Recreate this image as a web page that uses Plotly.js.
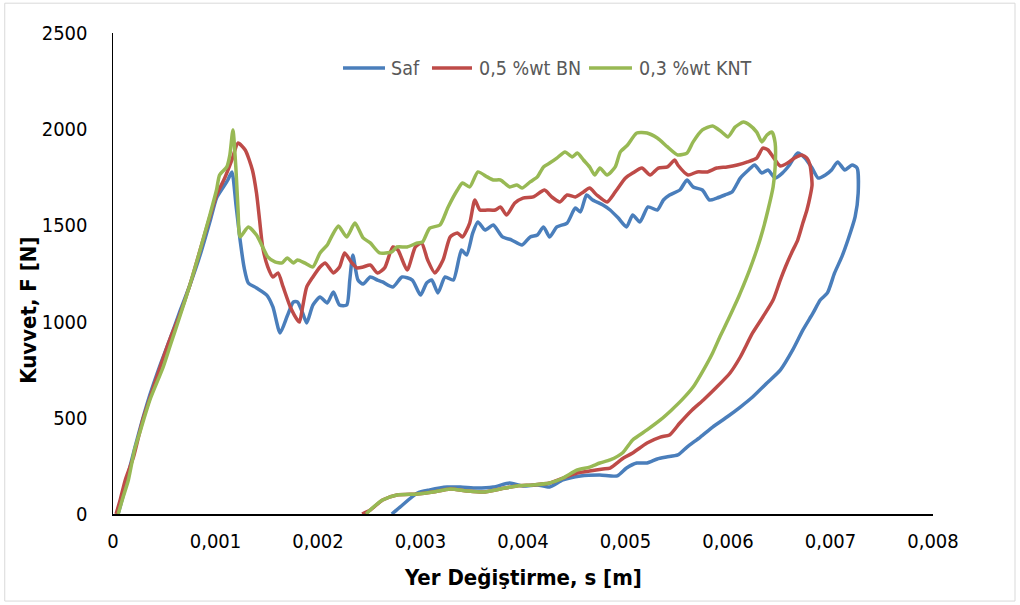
<!DOCTYPE html>
<html>
<head>
<meta charset="utf-8">
<script src="https://cdn.plot.ly/plotly-3.0.1.min.js"></script>
<style>
  html, body { margin: 0; padding: 0; background: #ffffff; }
  #chart { width: 1020px; height: 605px; }
</style>
</head>
<body>
<div id="chart"></div>
<script>
// Kuvvet - yer değiştirme eğrileri (yükleme + geri dönüş)

// Saf
const safX = [0.00005,0.00010,0.00017,0.00026,0.00036,0.00046,0.00056,0.00065,0.00075,0.00085,0.00095,0.00101,0.00107,0.00112,0.00116,0.00120,0.00124,0.00128,0.00132,0.00140,0.00150,0.00156,0.00163,0.00170,0.00176,0.00180,0.00185,0.00189,0.00195,0.00202,0.00209,0.00215,0.00221,0.00228,0.00231,0.00234,0.00239,0.00244,0.00251,0.00258,0.00263,0.00273,0.00282,0.00292,0.00300,0.00306,0.00311,0.00317,0.00324,0.00332,0.00340,0.00345,0.00351,0.00356,0.00363,0.00371,0.00380,0.00389,0.00399,0.00407,0.00414,0.00420,0.00426,0.00433,0.00443,0.00451,0.00456,0.00462,0.00468,0.00478,0.00485,0.00493,0.00501,0.00507,0.00514,0.00522,0.00531,0.00537,0.00543,0.00553,0.00560,0.00566,0.00575,0.00582,0.00589,0.00597,0.00604,0.00612,0.00620,0.00626,0.00633,0.00639,0.00646,0.00653,0.00660,0.00668,0.00675,0.00682,0.00688,0.00695,0.00701,0.00707,0.00714,0.00721,0.00726,0.00727,0.00724,0.00717,0.00711,0.00704,0.00697,0.00690,0.00683,0.00673,0.00663,0.00651,0.00638,0.00624,0.00612,0.00599,0.00585,0.00573,0.00560,0.00551,0.00540,0.00531,0.00521,0.00511,0.00501,0.00492,0.00475,0.00456,0.00439,0.00426,0.00414,0.00400,0.00387,0.00371,0.00355,0.00339,0.00326,0.00309,0.00297,0.00280,0.00272];
const safF = [0,99,255,437,619,774,915,1050,1190,1346,1528,1642,1694,1736,1778,1606,1424,1279,1201,1175,1138,1076,941,1029,1102,1102,1045,993,1086,1128,1097,1154,1086,1086,1216,1346,1216,1195,1232,1216,1206,1180,1232,1216,1138,1201,1216,1149,1232,1216,1372,1346,1461,1518,1476,1502,1440,1424,1398,1440,1450,1492,1440,1492,1512,1590,1570,1658,1632,1606,1580,1538,1492,1554,1518,1596,1580,1632,1658,1684,1736,1700,1684,1632,1642,1658,1674,1746,1788,1814,1772,1788,1746,1772,1814,1876,1850,1798,1746,1762,1788,1830,1788,1814,1798,1668,1544,1424,1336,1253,1149,1112,1045,956,852,748,681,608,556,504,452,400,348,307,296,286,265,265,239,198,203,198,177,140,151,146,161,140,135,140,140,125,109,36,0];

// 0,5 %wt BN
const bnX = [0.00003,0.00007,0.00012,0.00020,0.00029,0.00036,0.00046,0.00056,0.00065,0.00075,0.00085,0.00095,0.00101,0.00109,0.00116,0.00122,0.00129,0.00136,0.00140,0.00143,0.00146,0.00151,0.00156,0.00161,0.00166,0.00173,0.00180,0.00182,0.00185,0.00189,0.00195,0.00202,0.00207,0.00215,0.00221,0.00226,0.00233,0.00238,0.00244,0.00251,0.00258,0.00265,0.00273,0.00278,0.00287,0.00295,0.00301,0.00307,0.00314,0.00322,0.00329,0.00336,0.00341,0.00348,0.00353,0.00358,0.00365,0.00373,0.00378,0.00384,0.00392,0.00400,0.00410,0.00421,0.00428,0.00436,0.00443,0.00451,0.00459,0.00465,0.00472,0.00482,0.00490,0.00500,0.00507,0.00516,0.00524,0.00532,0.00541,0.00548,0.00551,0.00561,0.00570,0.00580,0.00589,0.00599,0.00609,0.00619,0.00628,0.00634,0.00639,0.00644,0.00651,0.00658,0.00665,0.00672,0.00677,0.00680,0.00682,0.00680,0.00677,0.00673,0.00668,0.00662,0.00656,0.00651,0.00644,0.00634,0.00624,0.00612,0.00602,0.00589,0.00576,0.00565,0.00553,0.00543,0.00534,0.00521,0.00507,0.00498,0.00485,0.00478,0.00465,0.00453,0.00439,0.00426,0.00410,0.00394,0.00378,0.00361,0.00345,0.00329,0.00312,0.00297,0.00277,0.00263,0.00251,0.00243];
const bnF = [0,73,177,296,489,603,764,915,1034,1190,1372,1554,1658,1746,1840,1928,1892,1788,1668,1528,1388,1284,1232,1253,1180,1076,1008,998,1076,1180,1232,1284,1305,1253,1284,1357,1305,1279,1284,1294,1253,1279,1388,1372,1268,1388,1409,1320,1253,1320,1440,1461,1440,1512,1632,1580,1580,1580,1596,1554,1616,1642,1648,1684,1648,1622,1658,1648,1674,1694,1658,1622,1674,1746,1772,1798,1762,1798,1804,1840,1814,1762,1778,1778,1798,1804,1814,1830,1850,1902,1892,1856,1809,1824,1850,1866,1850,1814,1710,1648,1580,1512,1424,1357,1284,1216,1112,1024,941,816,733,660,593,541,473,411,400,369,317,291,239,234,223,213,187,161,151,146,130,114,120,130,114,104,99,73,21,0];

// 0,3 %wt KNT
const kntX = [0.00005,0.00009,0.00015,0.00021,0.00026,0.00036,0.00049,0.00056,0.00065,0.00075,0.00085,0.00095,0.00101,0.00104,0.00111,0.00114,0.00117,0.00120,0.00122,0.00124,0.00132,0.00140,0.00146,0.00151,0.00158,0.00165,0.00170,0.00176,0.00180,0.00187,0.00195,0.00202,0.00209,0.00214,0.00220,0.00228,0.00236,0.00244,0.00251,0.00260,0.00272,0.00277,0.00287,0.00297,0.00302,0.00309,0.00319,0.00327,0.00336,0.00341,0.00348,0.00356,0.00365,0.00371,0.00378,0.00387,0.00394,0.00399,0.00407,0.00414,0.00420,0.00426,0.00433,0.00441,0.00448,0.00453,0.00459,0.00465,0.00470,0.00475,0.00482,0.00490,0.00495,0.00502,0.00511,0.00521,0.00531,0.00541,0.00551,0.00560,0.00566,0.00575,0.00585,0.00594,0.00600,0.00607,0.00615,0.00621,0.00628,0.00633,0.00638,0.00643,0.00646,0.00646,0.00644,0.00639,0.00634,0.00628,0.00621,0.00612,0.00609,0.00600,0.00592,0.00585,0.00576,0.00566,0.00555,0.00545,0.00534,0.00521,0.00507,0.00497,0.00485,0.00475,0.00465,0.00453,0.00439,0.00426,0.00410,0.00394,0.00378,0.00361,0.00345,0.00329,0.00312,0.00297,0.00277,0.00263,0.00253,0.00247];
const kntF = [0,73,177,333,421,593,764,878,1024,1190,1372,1564,1684,1762,1804,1866,1996,1788,1580,1440,1492,1450,1388,1336,1310,1305,1331,1305,1320,1305,1284,1357,1398,1450,1497,1440,1512,1435,1409,1357,1362,1388,1388,1409,1414,1486,1502,1596,1684,1720,1700,1778,1752,1736,1736,1700,1710,1694,1726,1752,1804,1824,1850,1882,1856,1876,1840,1804,1762,1798,1762,1804,1882,1918,1980,1980,1954,1908,1866,1876,1934,1996,2017,1985,1960,2011,2037,2022,1985,1934,1970,1985,1928,1804,1700,1580,1476,1372,1268,1149,1112,1008,920,837,748,660,593,541,489,437,385,317,281,265,244,229,187,161,151,146,130,114,120,130,114,104,99,73,31,0];

const seriesNames = ['Saf', '0,5 %wt BN', '0,3 %wt KNT'];
const seriesColors = ['#4A7EBB', '#BE4B48', '#98B954'];

const xTickVals = [0, 0.001, 0.002, 0.003, 0.004, 0.005, 0.006, 0.007, 0.008];
const xTickText = ['0', '0,001', '0,002', '0,003', '0,004', '0,005', '0,006', '0,007', '0,008'];
const yTickVals = [0, 500, 1000, 1500, 2000, 2500];

const FONT = '"DejaVu Sans Condensed", "Liberation Sans Narrow", "Open Sans", sans-serif';

const xs = [safX, bnX, kntX];
const ys = [safF, bnF, kntF];
const traces = xs.map((x, i) => ({
  type: 'scatter',
  mode: 'lines',
  name: seriesNames[i],
  x: x,
  y: ys[i],
  line: { color: seriesColors[i], width: 3.5, shape: 'spline', smoothing: 0.6 },
  hoverinfo: 'skip',
  showlegend: false
}));

// Legend row drawn as short line keys with labels above the plot
const legendKeyX = [[0.2805, 0.3317], [0.389, 0.4378], [0.5805, 0.6329]];
const legendLabelX = [0.3366, 0.4439, 0.6390];
const legendY = 0.9272;

const shapes = [{
  type: 'rect', xref: 'paper', yref: 'paper',
  x0: -0.132, x1: 1.1, y0: -0.181, y1: 1.062,
  line: { color: '#D9D9D9', width: 1 }, fillcolor: 'rgba(0,0,0,0)', layer: 'below'
}];
const annotations = [];
seriesNames.forEach((n, i) => {
  shapes.push({
    type: 'line', xref: 'paper', yref: 'paper',
    x0: legendKeyX[i][0], x1: legendKeyX[i][1], y0: legendY, y1: legendY,
    line: { color: seriesColors[i], width: 3.5 }
  });
  annotations.push({
    xref: 'paper', yref: 'paper', x: legendLabelX[i], y: legendY,
    xanchor: 'left', yanchor: 'middle', showarrow: false, text: n,
    font: { family: FONT, size: 19.5, color: '#595959' }
  });
});

// Axis titles
annotations.push({
  xref: 'paper', yref: 'paper', x: (523 - 113) / 820, y: -0.132,
  xanchor: 'center', yanchor: 'middle', showarrow: false,
  text: '<b>Yer Değiştirme, s [m]</b>',
  font: { family: FONT, size: 22, color: '#000000' }
});
annotations.push({
  xref: 'paper', yref: 'paper', x: -0.104, y: 0.424,
  xanchor: 'center', yanchor: 'middle', showarrow: false, textangle: -90,
  text: '<b>Kuvvet, F [N]</b>',
  font: { family: FONT, size: 22, color: '#000000' }
});

const layout = {
  width: 1020,
  height: 605,
  paper_bgcolor: '#ffffff',
  plot_bgcolor: '#ffffff',
  margin: { l: 113, r: 87, t: 33, b: 91 },
  showlegend: false,
  xaxis: {
    range: [0, 0.008],
    tickvals: xTickVals,
    ticktext: xTickText,
    showgrid: false,
    zeroline: false,
    showline: true,
    linecolor: '#000000',
    linewidth: 1.5,
    ticks: '',
    ticklabelstandoff: 8,
    tickfont: { family: FONT, size: 20, color: '#000000' }
  },
  yaxis: {
    range: [0, 2500],
    tickvals: yTickVals,
    showgrid: false,
    zeroline: false,
    showline: true,
    linecolor: '#000000',
    linewidth: 1.5,
    ticks: '',
    ticklabelstandoff: 20,
    tickfont: { family: FONT, size: 20, color: '#000000' }
  },
  shapes: shapes,
  annotations: annotations
};

Plotly.newPlot('chart', traces, layout, { displayModeBar: false, staticPlot: true });
</script>
</body>
</html>
